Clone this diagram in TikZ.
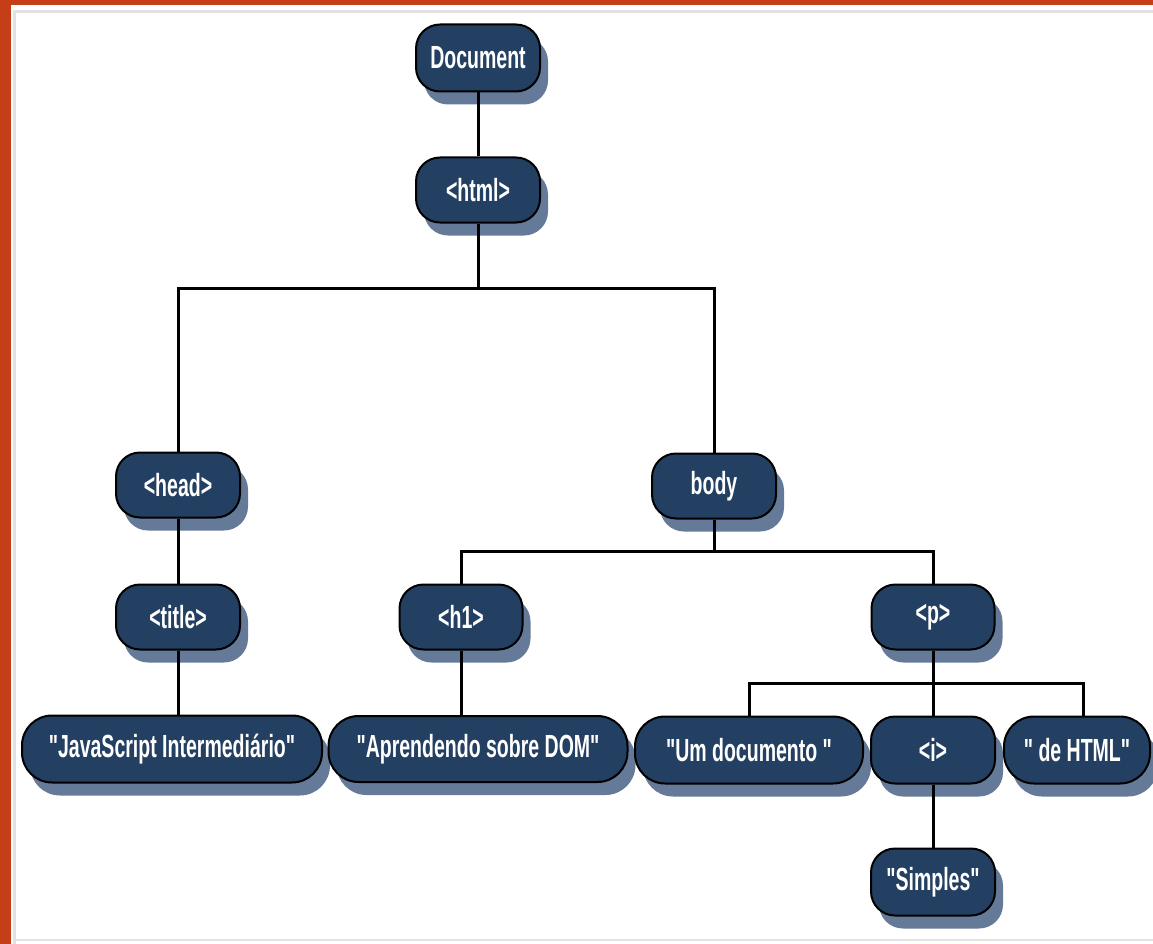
\documentclass[tikz,border=0pt]{standalone}
\usepackage{fontspec}
\newfontfamily\nodefont[FakeStretch=0.61]{Liberation Sans Bold}
\usetikzlibrary{shadows}
\definecolor{navy}{HTML}{233F62}
\definecolor{shadowc}{HTML}{647A98}
\definecolor{rust}{HTML}{C63E18}
\definecolor{framec}{HTML}{E2E2E2}
\tikzset{
  domnode/.style={draw=black, line width=2pt, fill=navy, text=white,
    rounded corners=24pt, minimum height=65pt, inner sep=0pt,
    font=\nodefont\fontsize{32}{36}\selectfont,
    drop shadow={shadow xshift=8pt, shadow yshift=-13pt, fill=shadowc, opacity=1}},
  wide/.style={rounded corners=30pt},
  link/.style={draw=black, line width=3pt}
}
\begin{document}
\begin{tikzpicture}[x=1pt,y=-1pt]
\useasboundingbox (0,0) rectangle (1153,944);
\fill[white] (0,0) rectangle (1153,944);
% frame
\fill[rust] (0,0) rectangle (11,944);
\fill[rust] (0,0) rectangle (1153,5);
\draw[framec, line width=2.5pt] (14.5,944) -- (14.5,11.5) -- (1153,11.5);
\draw[framec, line width=2.5pt] (14.5,940) -- (1153,940);

% connector bus coordinates
\coordinate (hbus) at (478,288);
\coordinate (bbus) at (714,551);
\coordinate (pbus) at (933,683);

% nodes
\node[domnode, minimum width=124pt, minimum height=67pt] (doc) at (478,58) {Document};
\node[domnode, minimum width=124pt] (html) at (478,190) {<html>};
\node[domnode, minimum width=124pt] (head) at (178,485) {<head>};
\node[domnode, minimum width=124pt] (body) at (714,486) {body};
\node[domnode, minimum width=124pt] (title) at (178,617) {<title>};
\node[domnode, minimum width=123pt] (h1) at (461,617) {<h1>};
\node[domnode, minimum width=123pt] (p) at (933,617) {<p>};
\node[domnode, wide, minimum width=300pt, minimum height=67pt] (js) at (172,749) {"JavaScript Intermediário"};
\node[domnode, wide, minimum width=299pt, minimum height=66pt] (apr) at (478,749) {"Aprendendo sobre DOM"};
\node[domnode, wide, minimum width=228pt, minimum height=67pt] (um) at (749,750) {"Um documento "};
\node[domnode, minimum width=124pt, minimum height=67pt] (i) at (933,750) {<i>};
\node[domnode, wide, minimum width=146pt, minimum height=67pt] (de) at (1077,750) {" de HTML"};
\node[domnode, minimum width=124pt, minimum height=67pt] (simp) at (933,882) {"Simples"};

% connectors
\draw[link] (doc.south) -- (html.north);
\draw[link] (html.south) -- (hbus);
\draw[link] (head.north) |- (hbus) -| (body.north);
\draw[link] (head.south) -- (title.north);
\draw[link] (title.south) -- (title.south |- js.north);
\draw[link] (body.south) -- (bbus);
\draw[link] (h1.north) |- (bbus) -| (p.north);
\draw[link] (h1.south) -- (h1.south |- apr.north);
\draw[link] (p.south) -- (i.north);
\draw[link] (um.north) |- (pbus) -| ([xshift=6pt]de.north);
\draw[link] (i.south) -- (simp.north);
\end{tikzpicture}
\end{document}
